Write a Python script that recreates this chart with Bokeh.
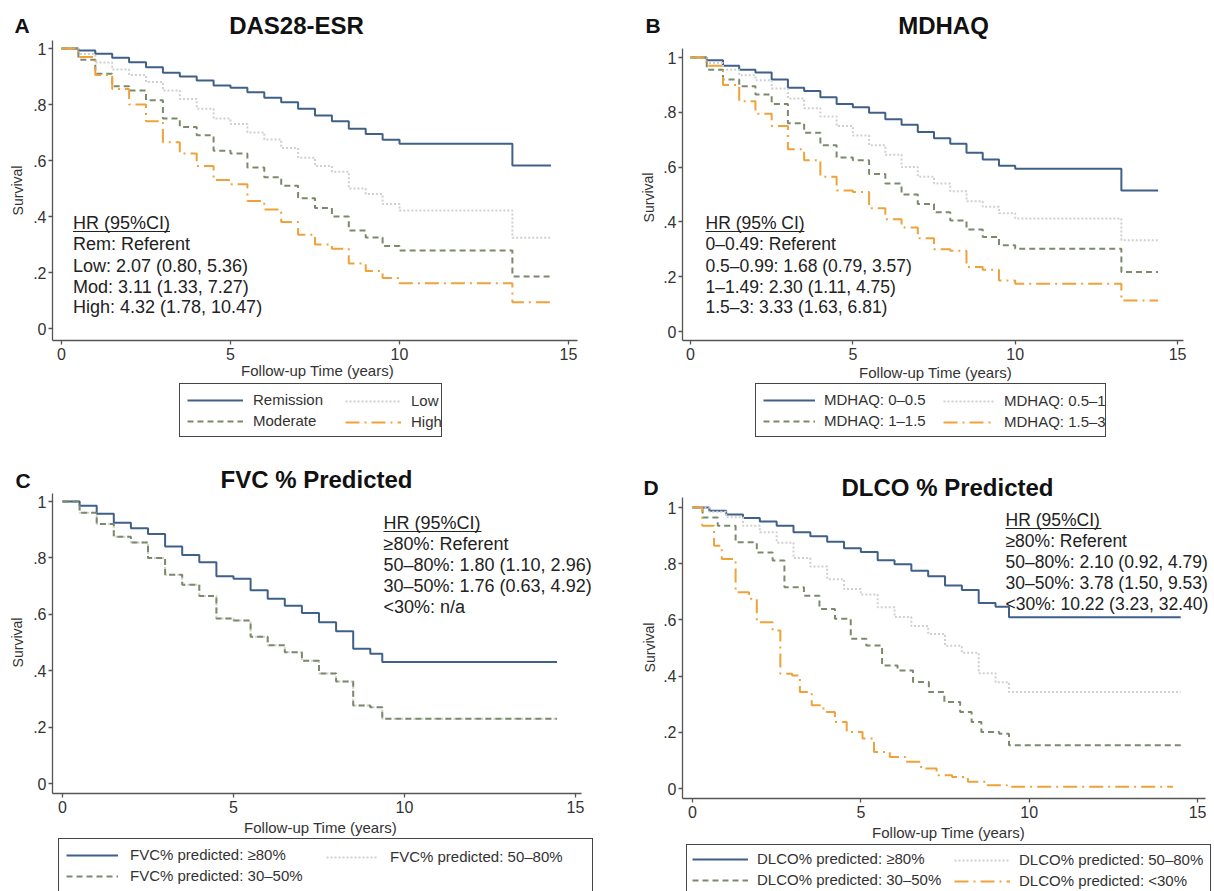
from bokeh.plotting import figure
from bokeh.models import Range1d, FixedTicker, Label, Legend, LegendItem, Arrow
from bokeh.layouts import column, row
from bokeh.embed import file_html
from bokeh.resources import INLINE

FONT = "Liberation Sans"

X_TICKS = [0, 5, 10, 15]
Y_TICKS = [0, 0.2, 0.4, 0.6, 0.8, 1]
Y_TICK_LABELS = ["0", ".2", ".4", ".6", ".8", "1"]
X_LABEL = "Follow-up Time (years)"
Y_LABEL = "Survival"

# ---------------- Panel A: DAS28-ESR ----------------
a_t = [0, 0.5, 1.0, 1.5, 2.0, 2.5, 3.0, 3.5, 4.0, 4.5, 5.0, 5.5, 6.0, 6.5, 7.0, 7.5, 8.0, 8.5, 9.0, 9.5, 10.0, 13.34, 14.48]
a_rem = [1.0, 0.993, 0.981, 0.967, 0.951, 0.933, 0.913, 0.9, 0.886, 0.868, 0.86, 0.844, 0.824, 0.808, 0.785, 0.761, 0.74, 0.713, 0.695, 0.674, 0.66, 0.582, 0.582]
a_low = [1.0, 0.98, 0.95, 0.925, 0.905, 0.88, 0.85, 0.82, 0.785, 0.75, 0.73, 0.70, 0.675, 0.645, 0.61, 0.58, 0.56, 0.50, 0.48, 0.445, 0.421, 0.324, 0.324]
a_mod = [1.0, 0.96, 0.91, 0.865, 0.85, 0.815, 0.75, 0.72, 0.69, 0.635, 0.625, 0.575, 0.54, 0.51, 0.465, 0.43, 0.40, 0.35, 0.325, 0.295, 0.279, 0.186, 0.186]
a_high = [1.0, 0.97, 0.905, 0.855, 0.80, 0.74, 0.665, 0.625, 0.58, 0.53, 0.515, 0.455, 0.425, 0.38, 0.335, 0.30, 0.285, 0.232, 0.205, 0.18, 0.162, 0.094, 0.094]
a_labels = ["Remission", "Low", "Moderate", "High"]
a_hr = ["HR (95%CI)", "Rem: Referent", "Low: 2.07 (0.80, 5.36)", "Mod: 3.11 (1.33, 7.27)", "High: 4.32 (1.78, 10.47)"]

# ---------------- Panel B: MDHAQ ----------------
b_t = [0, 0.5, 1.0, 1.5, 2.0, 2.5, 3.0, 3.5, 4.0, 4.5, 5.0, 5.5, 6.0, 6.5, 7.0, 7.5, 8.0, 8.5, 9.0, 9.5, 10.0, 13.27, 14.4]
b_q1 = [1.0, 0.99, 0.97, 0.955, 0.945, 0.92, 0.89, 0.878, 0.855, 0.83, 0.818, 0.798, 0.775, 0.755, 0.728, 0.705, 0.685, 0.652, 0.628, 0.605, 0.594, 0.515, 0.515]
b_q2 = [1.0, 0.98, 0.955, 0.935, 0.917, 0.887, 0.85, 0.815, 0.785, 0.75, 0.715, 0.68, 0.645, 0.60, 0.565, 0.54, 0.512, 0.475, 0.455, 0.432, 0.412, 0.333, 0.333]
b_q3 = [1.0, 0.955, 0.92, 0.895, 0.865, 0.83, 0.76, 0.725, 0.68, 0.635, 0.625, 0.575, 0.54, 0.50, 0.465, 0.435, 0.405, 0.372, 0.345, 0.315, 0.302, 0.217, 0.217]
b_q4 = [1.0, 0.97, 0.90, 0.84, 0.795, 0.75, 0.665, 0.625, 0.565, 0.515, 0.509, 0.45, 0.41, 0.38, 0.34, 0.30, 0.295, 0.235, 0.225, 0.186, 0.174, 0.113, 0.113]
b_labels = ["MDHAQ: 0\u20130.5", "MDHAQ: 0.5\u20131", "MDHAQ: 1\u20131.5", "MDHAQ: 1.5\u20133"]
b_hr = ["HR (95% CI)", "0\u20130.49: Referent", "0.5\u20130.99: 1.68 (0.79, 3.57)", "1\u20131.49: 2.30 (1.11, 4.75)", "1.5\u20133: 3.33 (1.63, 6.81)"]

# ---------------- Panel C: FVC % predicted ----------------
c_t = [0, 0.5, 1.0, 1.5, 2.0, 2.5, 3.0, 3.5, 4.0, 4.5, 5.0, 5.5, 6.0, 6.5, 7.0, 7.5, 8.0, 8.5, 9.0, 9.35, 14.46]
c_hi = [1.0, 0.985, 0.957, 0.925, 0.905, 0.885, 0.84, 0.81, 0.785, 0.735, 0.726, 0.685, 0.655, 0.63, 0.605, 0.572, 0.54, 0.478, 0.46, 0.431, 0.431]
c_mid = [1.0, 0.96, 0.92, 0.875, 0.855, 0.80, 0.74, 0.705, 0.665, 0.585, 0.578, 0.52, 0.49, 0.465, 0.435, 0.39, 0.362, 0.277, 0.27, 0.23, 0.23]
c_low = [1.0, 0.96, 0.92, 0.875, 0.855, 0.80, 0.74, 0.705, 0.665, 0.585, 0.578, 0.52, 0.49, 0.465, 0.435, 0.39, 0.362, 0.277, 0.27, 0.23, 0.23]
c_labels = ["FVC% predicted: \u226580%", "FVC% predicted: 50\u201380%", "FVC% predicted: 30\u201350%"]
c_hr = ["HR (95%CI)", "\u226580%: Referent", "50\u201380%: 1.80 (1.10, 2.96)", "30\u201350%: 1.76 (0.63, 4.92)", "<30%: n/a"]

# ---------------- Panel D: DLCO % predicted ----------------
d_t1 = [0, 0.5, 1.0, 1.5, 2.0, 2.5, 3.0, 3.5, 4.0, 4.5, 5.0, 5.5, 6.0, 6.5, 7.0, 7.5, 8.0, 8.5, 9.0, 9.4, 14.5]
d_hi = [1.0, 0.988, 0.975, 0.963, 0.95, 0.935, 0.912, 0.898, 0.878, 0.855, 0.842, 0.812, 0.798, 0.775, 0.755, 0.722, 0.706, 0.66, 0.647, 0.609, 0.609]
d_mid = [1.0, 0.985, 0.965, 0.935, 0.912, 0.875, 0.82, 0.79, 0.745, 0.71, 0.69, 0.645, 0.61, 0.578, 0.55, 0.508, 0.483, 0.41, 0.378, 0.343, 0.343]
d_t3 = [0, 0.3, 0.75, 1.28, 1.91, 2.38, 2.73, 3.31, 3.77, 4.23, 4.7, 5.16, 5.63, 6.09, 6.55, 7.02, 7.48, 7.95, 8.29, 8.58, 9.11, 9.4, 14.5]
d_low = [1.0, 0.964, 0.935, 0.876, 0.84, 0.811, 0.716, 0.686, 0.639, 0.604, 0.533, 0.509, 0.438, 0.42, 0.379, 0.343, 0.308, 0.272, 0.237, 0.201, 0.195, 0.154, 0.154]
d_t4 = [0, 0.29, 0.64, 0.87, 1.22, 1.28, 1.68, 1.91, 2.38, 2.61, 2.96, 3.19, 3.54, 3.89, 4.23, 4.58, 5.05, 5.39, 5.86, 6.32, 6.79, 7.25, 7.71, 8.18, 8.76, 9.34, 14.27]
d_vlow = [1.0, 0.935, 0.864, 0.817, 0.811, 0.698, 0.675, 0.592, 0.562, 0.408, 0.402, 0.343, 0.296, 0.272, 0.237, 0.201, 0.178, 0.13, 0.112, 0.095, 0.071, 0.047, 0.041, 0.024, 0.012, 0.006, 0.006]
d_labels = ["DLCO% predicted: \u226580%", "DLCO% predicted: 50\u201380%", "DLCO% predicted: 30\u201350%", "DLCO% predicted: <30%"]
d_hr = ["HR (95%CI)", "\u226580%: Referent", "50\u201380%: 2.10 (0.92, 4.79)", "30\u201350%: 3.78 (1.50, 9.53)", "<30%: 10.22 (3.23, 32.40)"]

# ---------------- styles ----------------
STY_SOLID = dict(line_color="#3f6088", line_width=2)
STY_DOT = dict(line_color="#d0d0d0", line_width=2, line_dash="2 2")
STY_DASH = dict(line_color="#7b8a6b", line_width=2, line_dash="6 4")
STY_LDD = dict(line_color="#f0a23a", line_width=2, line_dash="14 5 2 5")
AXIS_COLOR = "#555555"
TEXT_COLOR = "#222222"


class Panel:
    """A figure whose frame covers its whole canvas; positions are given in
    page pixels and converted to canvas-local screen units."""

    def __init__(self, ox, oy, w, h, x0, kx, y0, ky, box):
        self.ox, self.oy, self.w, self.h = ox, oy, w, h
        self.x0, self.kx, self.y0, self.ky = x0, kx, y0, ky
        xr = ((ox - x0) / kx, (ox + w - x0) / kx)
        yr = ((y0 - (oy + h)) / ky, (y0 - oy) / ky)
        p = figure(width=w, height=h, x_range=Range1d(*xr), y_range=Range1d(*yr),
                   output_backend="svg", toolbar_location=None, title=None,
                   min_border=0, min_border_left=0, min_border_right=0,
                   min_border_top=0, min_border_bottom=0)
        p.outline_line_color = None
        p.xgrid.visible = False
        p.ygrid.visible = False
        p.background_fill_color = "white"
        p.border_fill_color = "white"
        bl, bt, br, bb = box
        tl, tr = self.tx(bl), self.tx(br)
        sb, st = self.sy(bb), self.sy(bt)
        xa, ya = p.xaxis[0], p.yaxis[0]
        xa.fixed_location = sb
        xa.bounds = (tl, tr)
        ya.fixed_location = tl
        ya.bounds = (sb, st)
        for ax in (xa, ya):
            ax.axis_line_color = AXIS_COLOR
            ax.axis_line_width = 1.3
            ax.major_tick_line_color = AXIS_COLOR
            ax.major_tick_line_width = 1.3
            ax.major_tick_out = 4
            ax.major_tick_in = 0
            ax.minor_tick_line_color = None
            ax.major_label_text_font = FONT
            ax.major_label_text_font_size = "16px"
            ax.major_label_text_color = "#333333"
        xa.ticker = FixedTicker(ticks=X_TICKS)
        ya.ticker = FixedTicker(ticks=Y_TICKS)
        ya.major_label_overrides = {v: lab for v, lab in zip(Y_TICKS, Y_TICK_LABELS)}
        ya.major_label_orientation = "horizontal"
        ya.major_label_standoff = 2
        xa.major_label_standoff = 3
        self.p = p

    def tx(self, rx):
        return (rx - self.x0) / self.kx

    def sy(self, ry):
        return (self.y0 - ry) / self.ky

    def lx(self, rx):
        return rx - self.ox

    def ly(self, ry):
        return self.oy + self.h - ry

    def text(self, rx, ry, s, size, bold=False, align="left", angle=0.0, color=TEXT_COLOR):
        self.p.add_layout(Label(x=self.lx(rx), y=self.ly(ry), x_units="screen", y_units="screen",
                                text=s, text_font=FONT, text_font_size=size,
                                text_font_style="bold" if bold else "normal",
                                text_align=align, text_baseline="middle", angle=angle,
                                text_color=color))

    def decorate(self, letter, title, tpos, lpos, ypos, xpos, hr, hr_x, hr_ys, ul_w, hr_size="18px"):
        self.text(tpos[0], tpos[1], title, "24px", bold=True, align="center", color="#111111")
        self.text(lpos[0], lpos[1], letter, "21px", bold=True, color="#111111")
        self.text(ypos[0], ypos[1], Y_LABEL, "14px", align="center", angle=1.5708, color="#333333")
        self.text(xpos[0], xpos[1], X_LABEL, "15px", align="center", color="#333333")
        for s, yy in zip(hr, hr_ys):
            self.text(hr_x, yy, s, hr_size)
        uy = self.ly(hr_ys[0] + 9)
        self.p.add_layout(Arrow(end=None, x_start=self.lx(hr_x), y_start=uy,
                                x_end=self.lx(hr_x + ul_w), y_end=uy,
                                start_units="screen", end_units="screen",
                                line_color=TEXT_COLOR, line_width=1.2))

    def legends(self, items1, items2, left, top, left2, pad, gw, standoff, lw):
        common = dict(orientation="vertical", padding=pad, spacing=4, glyph_width=gw,
                      glyph_height=16, label_height=16, label_standoff=standoff,
                      label_text_font=FONT, label_text_font_size="15px",
                      label_text_color="#333333", margin=0,
                      border_line_color="#444444", border_line_width=1,
                      background_fill_color="white")

        def bottom(n):
            return self.ly(top + 2 * pad + 16 * n + 4 * (n - 1))

        l1 = Legend(items=items1, location=(self.lx(left), bottom(len(items1))), label_width=lw,
                    border_line_alpha=1.0, background_fill_alpha=1.0, **common)
        self.p.add_layout(l1)
        if items2:
            l2 = Legend(items=items2, location=(self.lx(left2), bottom(len(items2))), label_width=20,
                        border_line_alpha=0.0, background_fill_alpha=0.0, **common)
            self.p.add_layout(l2)


# ---------------- Panel A ----------------
A = Panel(0, 0, 604, 448, 61, 33.8, 328, 280, (52, 40, 577, 340))
pA = A.p
rA1 = pA.step(a_t, a_rem, mode="after", **STY_SOLID)
rA2 = pA.step(a_t, a_low, mode="after", **STY_DOT)
rA3 = pA.step(a_t, a_mod, mode="after", **STY_DASH)
rA4 = pA.step(a_t, a_high, mode="after", **STY_LDD)
A.decorate("A", "DAS28-ESR", (296, 25), (14, 25), (17, 190), (317, 370),
           a_hr, 72.5, [222, 243, 265, 286, 306], 97)
A.legends([LegendItem(label=a_labels[0], renderers=[rA1]), LegendItem(label=a_labels[2], renderers=[rA3])],
          [LegendItem(label=a_labels[1], renderers=[rA2]), LegendItem(label=a_labels[3], renderers=[rA4])],
          179, 387, 338, 7, 56, 10, 181)

# ---------------- Panel B ----------------
B = Panel(604, 0, 610, 448, 690, 32.47, 331, 274, (682, 48, 1183, 340))
pB = B.p
rB1 = pB.step(b_t, b_q1, mode="after", **STY_SOLID)
rB2 = pB.step(b_t, b_q2, mode="after", **STY_DOT)
rB3 = pB.step(b_t, b_q3, mode="after", **STY_DASH)
rB4 = pB.step(b_t, b_q4, mode="after", **STY_LDD)
B.decorate("B", "MDHAQ", (943, 25), (645, 25), (648, 197), (935, 372),
           b_hr, 705, [222, 243, 265, 286, 306], 99, hr_size="17.5px")
B.legends([LegendItem(label=b_labels[0], renderers=[rB1]), LegendItem(label=b_labels[2], renderers=[rB3])],
          [LegendItem(label=b_labels[1], renderers=[rB2]), LegendItem(label=b_labels[3], renderers=[rB4])],
          755, 387, 936, 7, 52, 9, 274)

# ---------------- Panel C ----------------
C = Panel(0, 448, 604, 443, 62, 34.2, 783, 282, (52, 493, 581, 793))
pC = C.p
rC2 = pC.step(c_t, c_mid, mode="after", **STY_DOT)
rC1 = pC.step(c_t, c_hi, mode="after", **STY_SOLID)
rC3 = pC.step(c_t, c_low, mode="after", **STY_DASH)
C.decorate("C", "FVC % Predicted", (316, 479), (15, 480), (17, 642), (320, 827),
           c_hr, 383, [522, 543, 564, 585, 606], 98)
C.legends([LegendItem(label=c_labels[0], renderers=[rC1]), LegendItem(label=c_labels[2], renderers=[rC3])],
          [LegendItem(label=c_labels[1], renderers=[rC2])],
          58, 842, 319, 7, 52, 12, 455)

# ---------------- Panel D ----------------
D = Panel(604, 448, 610, 443, 692, 33.67, 788, 281, (682, 497, 1205, 798))
pD = D.p
rD1 = pD.step(d_t1, d_hi, mode="after", **STY_SOLID)
rD2 = pD.step(d_t1, d_mid, mode="after", **STY_DOT)
rD3 = pD.step(d_t3, d_low, mode="after", **STY_DASH)
rD4 = pD.step(d_t4, d_vlow, mode="after", **STY_LDD)
D.decorate("D", "DLCO % Predicted", (947, 487), (643, 487), (649, 647), (948, 832),
           d_hr, 1005, [519, 540, 561, 582, 603], 96, hr_size="17.5px")
D.legends([LegendItem(label=d_labels[0], renderers=[rD1]), LegendItem(label=d_labels[2], renderers=[rD3])],
          [LegendItem(label=d_labels[1], renderers=[rD2]), LegendItem(label=d_labels[3], renderers=[rD4])],
          686, 848, 949, 5, 56, 9, 448)

layout = column(row(pA, pB), row(pC, pD))
open("out.html", "w").write(file_html(layout, INLINE))
